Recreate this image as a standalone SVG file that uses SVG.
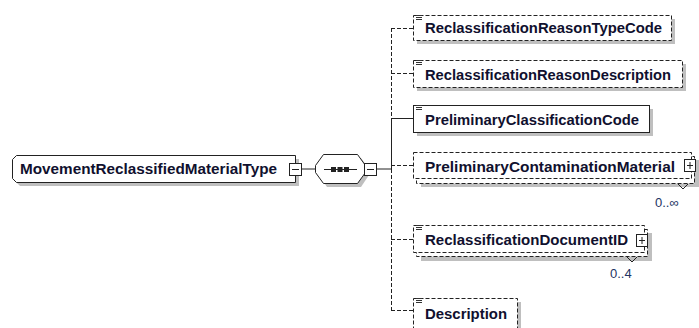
<svg xmlns="http://www.w3.org/2000/svg" width="699" height="328" viewBox="0 0 699 328">
<style>
.t{font-family:"Liberation Sans",Arial,sans-serif;font-weight:bold;font-size:14px;fill:#10102e}
.card{font-family:"Liberation Sans",Arial,sans-serif;font-size:13px;fill:#233463}
.box{fill:#fff;stroke:#222;stroke-width:1}
.dash{stroke-dasharray:4 2}
.sh{fill:#bfbfbf}
.ln{fill:none;stroke:#222;stroke-width:1}
.icon{fill:none;stroke:#333;stroke-width:1}
.pm{fill:#fff;stroke:#222;stroke-width:1}
</style>
<defs>
<path id="ic" d="M0,0.5h6M0,2.5h6M0,4.5h6" class="icon"/>
</defs>

<g id="connectors">
<line class="ln" x1="302" y1="169" x2="315" y2="169"/>
<line class="ln" x1="377" y1="169" x2="391" y2="169"/>
<line class="ln dash" x1="391.5" y1="28" x2="391.5" y2="118"/>
<line class="ln" x1="391.5" y1="118" x2="391.5" y2="169"/>
<line class="ln dash" x1="391.5" y1="169" x2="391.5" y2="310"/>
<line class="ln dash" x1="391" y1="28.5" x2="413" y2="28.5"/>
<line class="ln dash" x1="391" y1="73.5" x2="413" y2="73.5"/>
<line class="ln" x1="391" y1="118.5" x2="413" y2="118.5"/>
<line class="ln dash" x1="391" y1="165.5" x2="413" y2="165.5"/>
<line class="ln dash" x1="391" y1="239.5" x2="413" y2="239.5"/>
<line class="ln dash" x1="391" y1="310.5" x2="413" y2="310.5"/>
</g>

<g id="root">
<path class="sh" d="M20,159H299V186H20L16,182V163Z"/>
<path class="box" d="M16.5,155.5H295.5V182.5H16.5L12.5,178.5V159.5Z"/>
<text class="t" x="20" y="174" textLength="257" lengthAdjust="spacingAndGlyphs">MovementReclassifiedMaterialType</text>
<rect class="pm" x="289.5" y="163.5" width="12" height="12"/>
<line class="ln" x1="292" y1="169.5" x2="299" y2="169.5"/>
</g>

<g id="sequence">
<path class="sh" d="M327,158H361L369,169V175L361,187H327L319,175V169Z"/>
<path class="box" d="M323.5,154.5H357.5L365.5,165.5V172.5L357.5,183.5H323.5L315.5,172.5V165.5Z"/>
<line class="ln" x1="324" y1="169.5" x2="357" y2="169.5"/>
<rect x="331" y="167" width="5" height="5" fill="#222"/>
<rect x="337.5" y="167" width="5" height="5" fill="#222"/>
<rect x="344" y="167" width="5" height="5" fill="#222"/>
<rect class="pm" x="364.5" y="163.5" width="12" height="12"/>
<line class="ln" x1="367" y1="169.5" x2="374" y2="169.5"/>
</g>

<g id="n1">
<rect class="sh" x="417" y="19" width="258" height="25"/>
<rect class="box dash" x="413.5" y="15.5" width="258" height="25"/>
<use href="#ic" x="416" y="15"/>
<text class="t" x="425" y="33" textLength="237" lengthAdjust="spacingAndGlyphs">ReclassificationReasonTypeCode</text>
</g>

<g id="n2">
<rect class="sh" x="417" y="64" width="269" height="27"/>
<rect class="box dash" x="413.5" y="60.5" width="269" height="27"/>
<use href="#ic" x="416" y="60"/>
<text class="t" x="425" y="80" textLength="246" lengthAdjust="spacingAndGlyphs">ReclassificationReasonDescription</text>
</g>

<g id="n3">
<rect class="sh" x="417" y="109" width="236" height="27"/>
<rect class="box" x="413.5" y="105.5" width="236" height="27"/>
<use href="#ic" x="416" y="105"/>
<text class="t" x="425" y="125" textLength="214" lengthAdjust="spacingAndGlyphs">PreliminaryClassificationCode</text>
</g>

<g id="n4">
<rect class="sh" x="421" y="160" width="278" height="27"/>
<rect class="box dash" x="416.5" y="156.5" width="278" height="27"/>
<rect class="box dash" x="413.5" y="152.5" width="278" height="26"/>
<text class="t" x="425" y="172" textLength="250" lengthAdjust="spacingAndGlyphs">PreliminaryContaminationMaterial</text>
<rect class="pm" x="684.5" y="159.5" width="11" height="12"/>
<line class="ln" x1="687" y1="165.5" x2="693" y2="165.5"/>
<line class="ln" x1="690" y1="162" x2="690" y2="169"/>
<path class="ln" d="M678,184L683,189L688,184"/>
<text class="card" x="655" y="207">0..∞</text>
</g>

<g id="n5">
<rect class="sh" x="421" y="233" width="231" height="28"/>
<rect class="box dash" x="416.5" y="229.5" width="231" height="27"/>
<rect class="box dash" x="413.5" y="225.5" width="231" height="27"/>
<use href="#ic" x="416" y="225"/>
<text class="t" x="425" y="245" textLength="203" lengthAdjust="spacingAndGlyphs">ReclassificationDocumentID</text>
<rect class="pm" x="636.5" y="234.5" width="11" height="12"/>
<line class="ln" x1="639" y1="240.5" x2="645" y2="240.5"/>
<line class="ln" x1="642" y1="237" x2="642" y2="244"/>
<path class="ln" d="M627,257L632,262L637,257"/>
<text class="card" x="610" y="278">0..4</text>
</g>

<g id="n6">
<rect class="sh" x="417" y="302" width="104" height="30"/>
<rect class="box dash" x="413.5" y="298.5" width="104" height="32"/>
<use href="#ic" x="416" y="298"/>
<text class="t" x="425" y="319" textLength="82" lengthAdjust="spacingAndGlyphs">Description</text>
</g>
</svg>
